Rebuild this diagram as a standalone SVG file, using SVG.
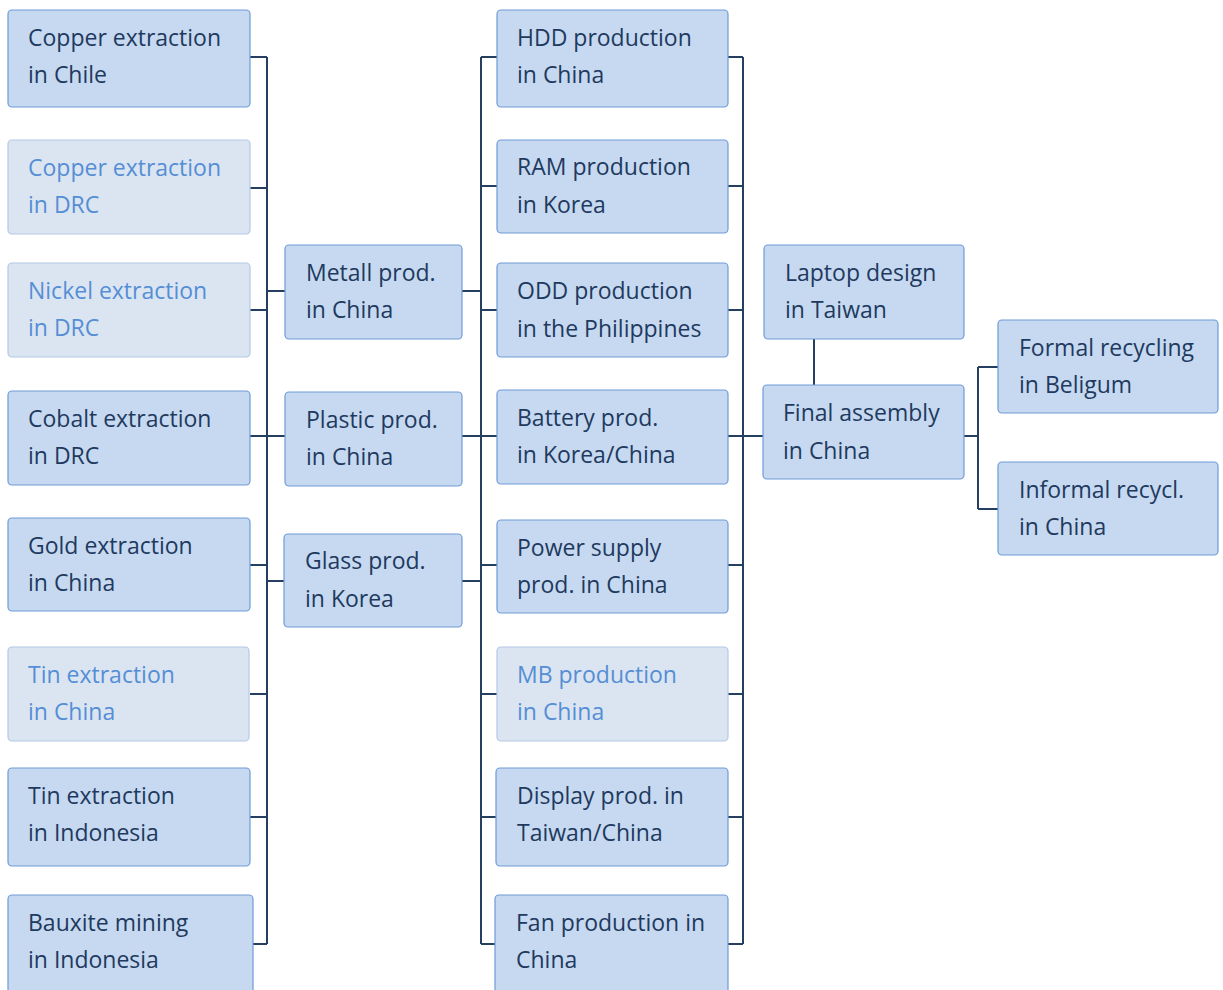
<svg xmlns="http://www.w3.org/2000/svg" width="1223" height="990" viewBox="0 0 1223 990">
<style>
.d rect{fill:#c6d9f0;stroke:#6f9bd8;stroke-width:1.2}
.l rect{fill:#dbe5f1;stroke:#b3c8e6;stroke-width:1.2}
text{font-family:"Open Sans","Noto Sans",sans-serif;font-size:23px}
.d text{fill:#1f3a5f}
.l text{fill:#558ed5}
#connectors path{fill:none;stroke:#243f60;stroke-width:2}
</style>
<rect width="1223" height="990" fill="#fff"/>
<g id="connectors">
<path d="M250 57H267M250 188H267M250 310H267M250 436H267M250 565H267M250 694H267M250 817H267M253 944H267M267 57V944"/>
<path d="M267 291H285M267 436H285M267 581H284"/>
<path d="M462 291H481M462 436H481M462 581H481M481 57V944"/>
<path d="M481 57H497M481 186H497M481 310H497M481 436H497M481 565H497M481 694H497M481 817H496M481 944H495"/>
<path d="M728 57H743M728 186H743M728 310H743M728 436H743M728 565H743M728 694H743M728 817H743M728 944H743M743 57V944"/>
<path d="M743 436H763M814 339V385"/>
<path d="M964 436H978M978 367V509M978 367H998M978 509H998"/>
</g>
<g id="n1" class="d"><rect x="8" y="10" width="242" height="97" rx="4"/><text x="28" y="46">Copper extraction</text><text x="28" y="83">in Chile</text></g>
<g id="n2" class="l"><rect x="8" y="140" width="242" height="94" rx="4"/><text x="28" y="176">Copper extraction</text><text x="28" y="213">in DRC</text></g>
<g id="n3" class="l"><rect x="8" y="263" width="242" height="94" rx="4"/><text x="28" y="299">Nickel extraction</text><text x="28" y="336">in DRC</text></g>
<g id="n4" class="d"><rect x="8" y="391" width="242" height="94" rx="4"/><text x="28" y="427">Cobalt extraction</text><text x="28" y="464">in DRC</text></g>
<g id="n5" class="d"><rect x="8" y="518" width="242" height="93" rx="4"/><text x="28" y="554">Gold extraction</text><text x="28" y="591">in China</text></g>
<g id="n6" class="l"><rect x="8" y="647" width="241" height="94" rx="4"/><text x="28" y="683">Tin extraction</text><text x="28" y="720">in China</text></g>
<g id="n7" class="d"><rect x="8" y="768" width="242" height="98" rx="4"/><text x="28" y="804">Tin extraction</text><text x="28" y="841">in Indonesia</text></g>
<g id="n8" class="d"><rect x="8" y="895" width="245" height="100" rx="4"/><text x="28" y="931">Bauxite mining</text><text x="28" y="968">in Indonesia</text></g>
<g id="n9" class="d"><rect x="285" y="245" width="177" height="94" rx="4"/><text x="306" y="281">Metall prod.</text><text x="306" y="318">in China</text></g>
<g id="n10" class="d"><rect x="285" y="392" width="177" height="94" rx="4"/><text x="306" y="428">Plastic prod.</text><text x="306" y="465">in China</text></g>
<g id="n11" class="d"><rect x="284" y="534" width="178" height="93" rx="4"/><text x="305" y="569">Glass prod.</text><text x="305" y="607">in Korea</text></g>
<g id="n12" class="d"><rect x="497" y="10" width="231" height="97" rx="4"/><text x="517" y="46">HDD production</text><text x="517" y="83">in China</text></g>
<g id="n13" class="d"><rect x="497" y="140" width="231" height="93" rx="4"/><text x="517" y="175">RAM production</text><text x="517" y="213">in Korea</text></g>
<g id="n14" class="d"><rect x="497" y="263" width="231" height="94" rx="4"/><text x="517" y="299">ODD production</text><text x="517" y="337">in the Philippines</text></g>
<g id="n15" class="d"><rect x="497" y="390" width="231" height="94" rx="4"/><text x="517" y="426">Battery prod.</text><text x="517" y="463">in Korea/China</text></g>
<g id="n16" class="d"><rect x="497" y="520" width="231" height="93" rx="4"/><text x="517" y="556">Power supply</text><text x="517" y="593">prod. in China</text></g>
<g id="n17" class="l"><rect x="497" y="647" width="231" height="94" rx="4"/><text x="517" y="683">MB production</text><text x="517" y="720">in China</text></g>
<g id="n18" class="d"><rect x="496" y="768" width="232" height="98" rx="4"/><text x="517" y="804">Display prod. in</text><text x="517" y="841">Taiwan/China</text></g>
<g id="n19" class="d"><rect x="495" y="895" width="233" height="100" rx="4"/><text x="516" y="931">Fan production in</text><text x="516" y="968">China</text></g>
<g id="n20" class="d"><rect x="764" y="245" width="200" height="94" rx="4"/><text x="785" y="281">Laptop design</text><text x="785" y="318">in Taiwan</text></g>
<g id="n21" class="d"><rect x="763" y="385" width="201" height="94" rx="4"/><text x="783" y="421">Final assembly</text><text x="783" y="459">in China</text></g>
<g id="n22" class="d"><rect x="998" y="320" width="220" height="93" rx="4"/><text x="1019" y="356">Formal recycling</text><text x="1019" y="393">in Beligum</text></g>
<g id="n23" class="d"><rect x="998" y="462" width="220" height="93" rx="4"/><text x="1019" y="498">Informal recycl.</text><text x="1019" y="535">in China</text></g>
</svg>
